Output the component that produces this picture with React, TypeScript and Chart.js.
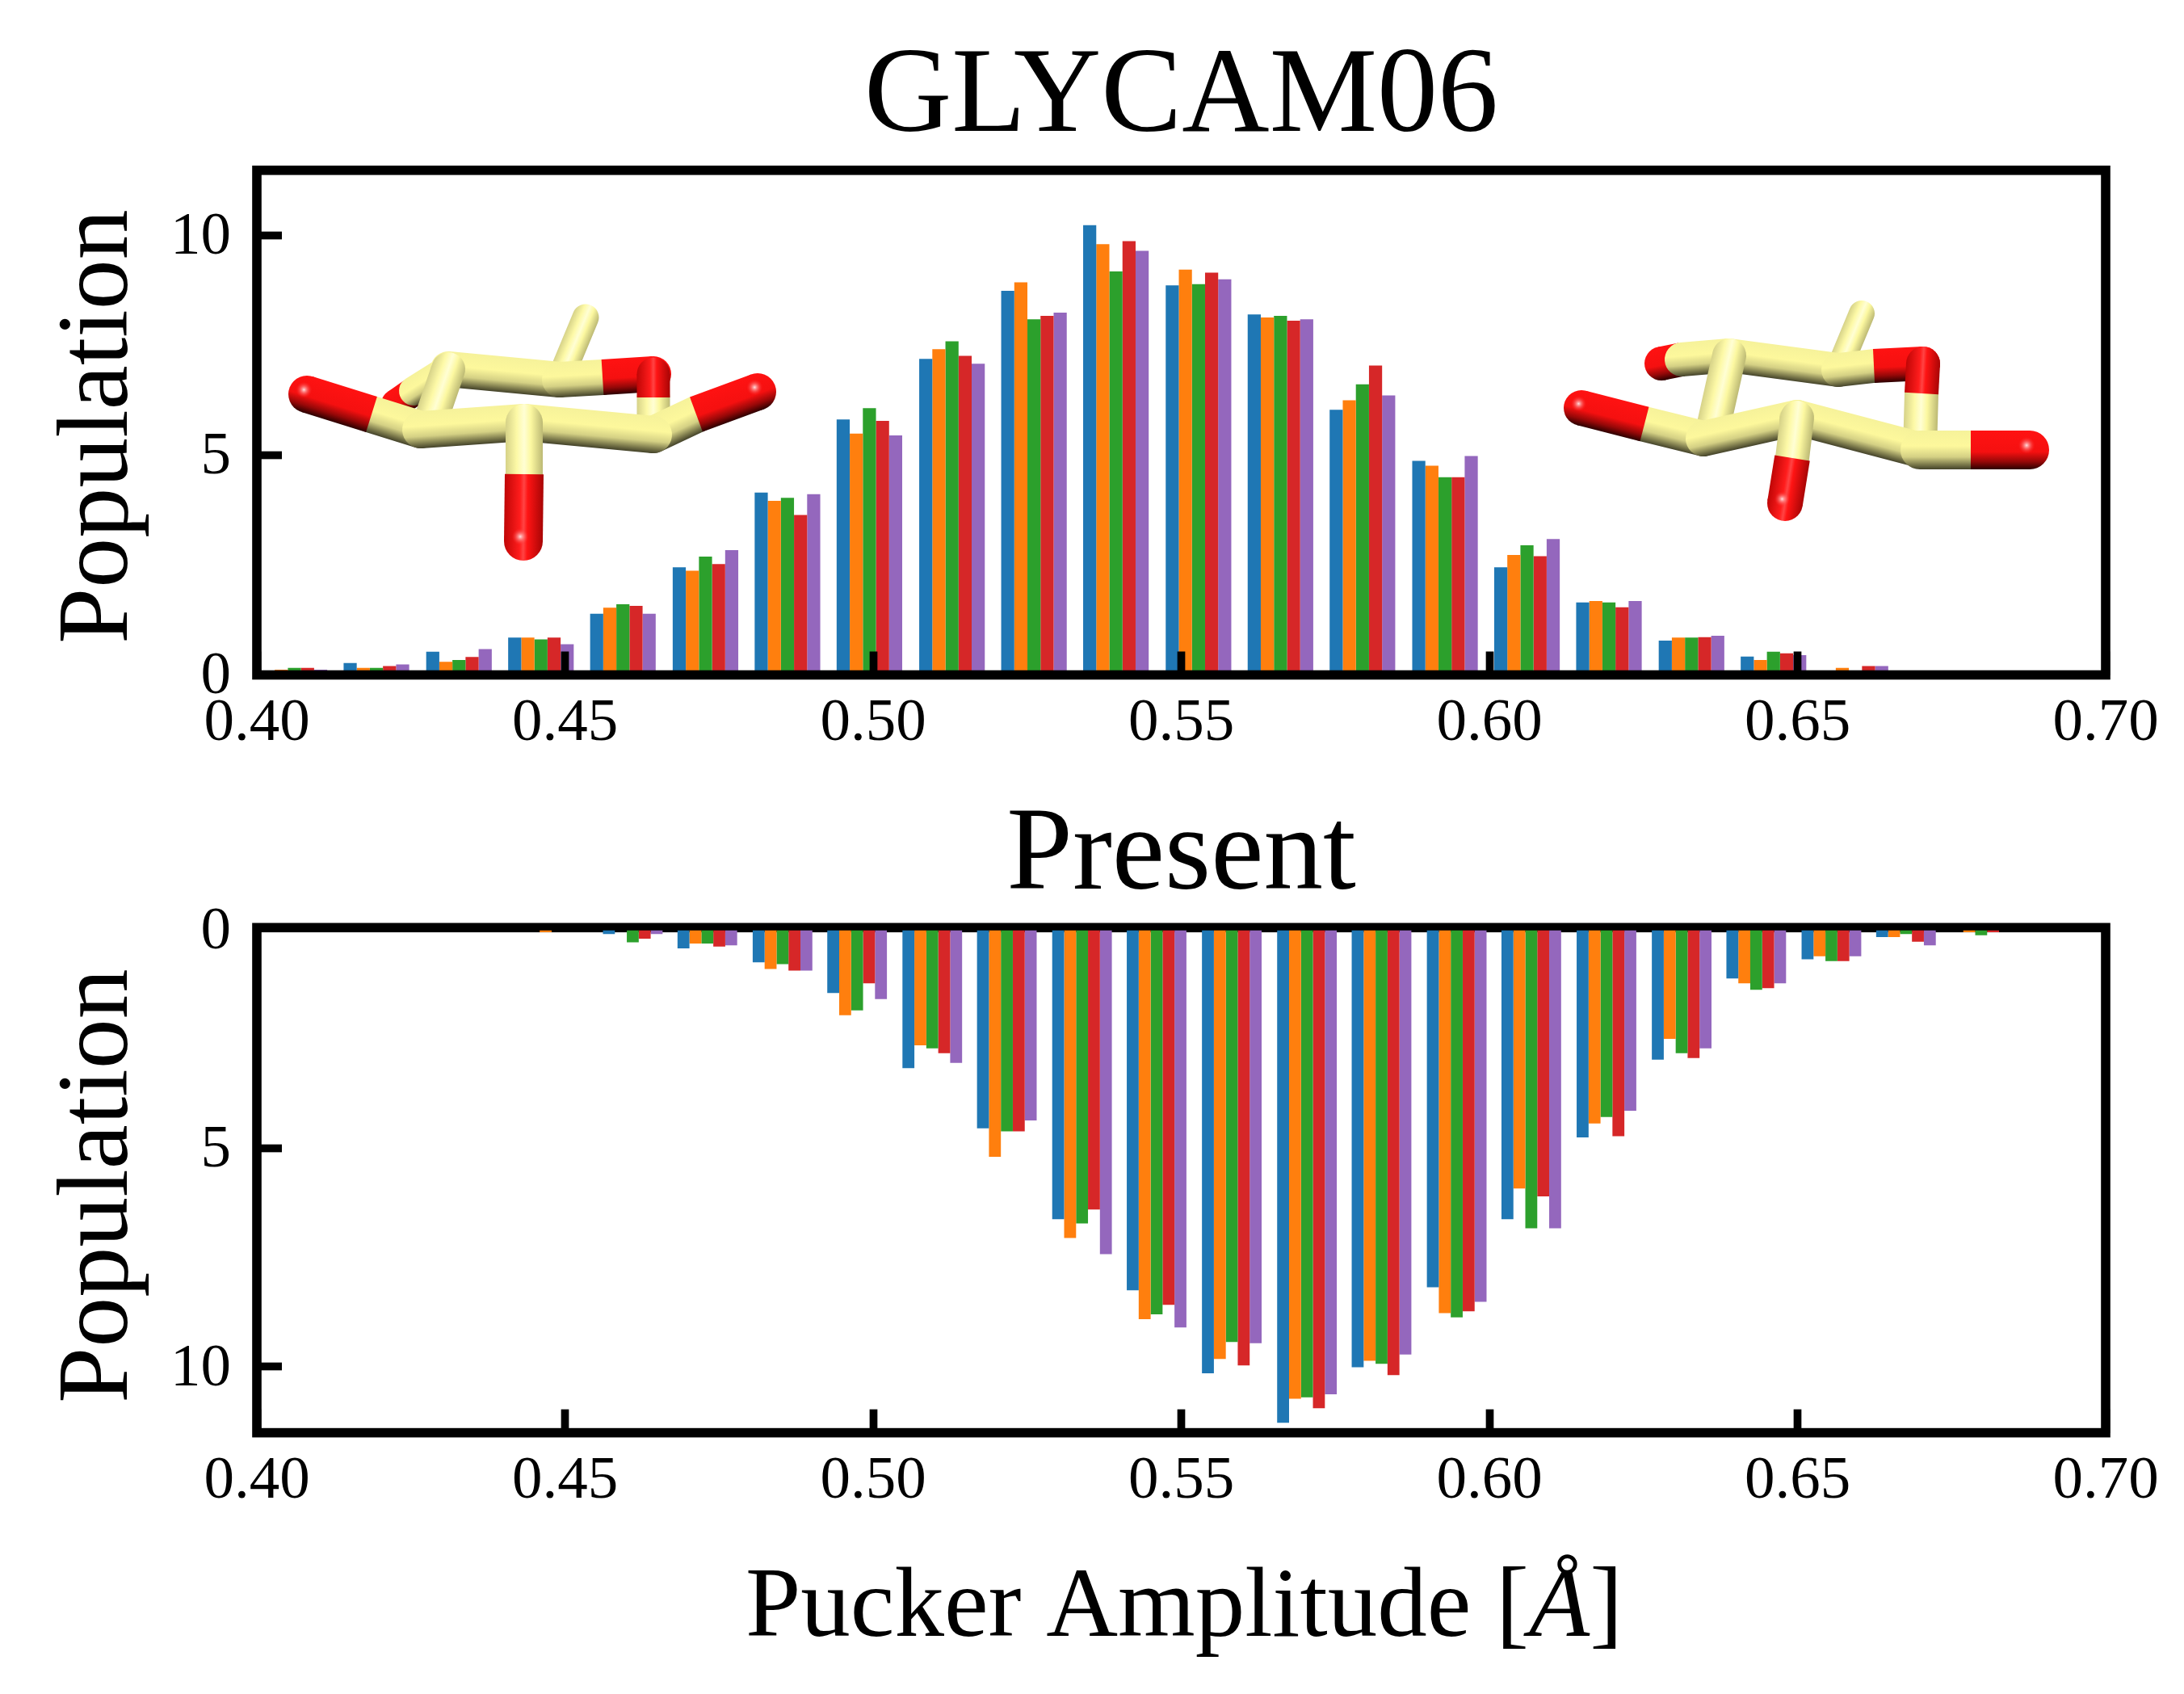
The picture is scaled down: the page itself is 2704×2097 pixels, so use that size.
import { useEffect, useRef } from "react";
import { Chart, registerables } from "chart.js";

Chart.register(...registerables);

const FONT = "'Liberation Serif'";
const COLORS = ["#1f77b4", "#ff7f0e", "#2ca02c", "#d62728", "#9467bd"];

// x ticks are shared, y ticks too
const xTicks = [0.4, 0.45, 0.5, 0.55, 0.6, 0.65, 0.7];
const yTicks = [0, 5, 10];

// GLYCAM06 panel
const topBins = [0.4061, 0.4194, 0.4328, 0.4461, 0.4594, 0.4728, 0.4861, 0.4994, 0.5128, 0.5261, 0.5394, 0.5528, 0.5661, 0.5794, 0.5928, 0.6061, 0.6194, 0.6328, 0.6461, 0.6594];
const topRun1 = [0.05, 0.27, 0.53, 0.85, 1.39, 2.45, 4.15, 5.81, 7.19, 8.74, 10.23, 8.86, 8.2, 6.03, 4.87, 2.45, 1.65, 0.78, 0.42, 0.05];
const topRun2 = [0.12, 0.16, 0.3, 0.85, 1.53, 2.37, 3.96, 5.49, 7.41, 8.93, 9.8, 9.22, 8.13, 6.25, 4.76, 2.73, 1.68, 0.85, 0.34, 0.16];
const topRun3 = [0.16, 0.16, 0.34, 0.81, 1.61, 2.69, 4.03, 6.07, 7.59, 8.09, 9.18, 8.89, 8.17, 6.61, 4.5, 2.95, 1.65, 0.85, 0.53, 0.05];
const topRun4 = [0.16, 0.2, 0.41, 0.85, 1.57, 2.52, 3.64, 5.78, 7.26, 8.17, 9.87, 9.15, 8.06, 7.04, 4.5, 2.7, 1.54, 0.86, 0.49, 0.2];
const topRun5 = [0.12, 0.24, 0.59, 0.7, 1.39, 2.84, 4.11, 5.45, 7.08, 8.24, 9.65, 9.0, 8.09, 6.36, 4.98, 3.09, 1.68, 0.89, 0.45, 0.2];

// Present panel
const lowBins = [0.4488, 0.461, 0.4731, 0.4853, 0.4974, 0.5096, 0.5217, 0.5339, 0.546, 0.5582, 0.5704, 0.5825, 0.5947, 0.6068, 0.619, 0.6312, 0.6433, 0.6555, 0.6676, 0.6798];
const lowRun1 = [0, 0.09, 0.42, 0.74, 1.44, 3.16, 4.54, 6.62, 8.25, 10.15, 11.28, 10.01, 8.18, 6.62, 4.75, 2.97, 1.11, 0.67, 0.16, 0];
const lowRun2 = [0.05, 0, 0.31, 0.89, 1.95, 2.64, 5.19, 7.05, 8.91, 9.82, 10.73, 9.86, 8.77, 5.92, 4.43, 2.49, 1.22, 0.6, 0.16, 0.05];
const lowRun3 = [0, 0.28, 0.31, 0.78, 1.84, 2.71, 4.61, 6.72, 8.8, 9.43, 10.7, 9.93, 8.87, 6.83, 4.28, 2.82, 1.37, 0.71, 0.09, 0.12];
const lowRun4 = [0, 0.2, 0.38, 0.93, 1.22, 2.82, 4.61, 6.4, 8.58, 9.97, 10.95, 10.19, 8.73, 6.1, 4.72, 2.93, 1.33, 0.71, 0.27, 0.05];
const lowRun5 = [0, 0.09, 0.35, 0.93, 1.58, 3.04, 4.36, 7.42, 9.1, 9.46, 10.63, 9.72, 8.51, 6.83, 4.14, 2.71, 1.22, 0.6, 0.35, 0];

type Pt = [number, number];

const RAMPS: Record<string, [number, string][]> = {
  yellowh: [[0, "#f6f29a"], [0.4, "#fdf89c"], [0.68, "#d4d084"], [0.9, "#706e44"], [1, "#44432a"]],
  yellowv: [[0, "#d6d288"], [0.3, "#fdf9a6"], [0.5, "#fffed4"], [0.68, "#fcf8a0"], [1, "#bcb974"]],
  redh: [[0, "#ff1212"], [0.55, "#f51010"], [0.8, "#960808"], [1, "#2c0000"]],
  redv: [[0, "#c00606"], [0.4, "#ff1c1c"], [0.5, "#ff4444"], [0.6, "#ff1414"], [1, "#a80505"]],
};

function ramp(ctx: CanvasRenderingContext2D, a: Pt, b: Pt, w: number, name: string) {
  const dx = b[0] - a[0];
  const dy = b[1] - a[1];
  const len = Math.hypot(dx, dy) || 1;
  let nx = -dy / len;
  let ny = dx / len;
  if (ny < 0 || (ny === 0 && nx < 0)) {
    nx = -nx;
    ny = -ny;
  }
  if (name.endsWith("v") && nx < 0) {
    nx = -nx;
    ny = -ny;
  }
  const g = ctx.createLinearGradient(a[0] - (nx * w) / 2, a[1] - (ny * w) / 2, a[0] + (nx * w) / 2, a[1] + (ny * w) / 2);
  RAMPS[name].forEach(([p, c]) => g.addColorStop(p, c));
  return g;
}

function bond(ctx: CanvasRenderingContext2D, a: Pt, b: Pt, w: number, style: "h" | "v") {
  ctx.strokeStyle = ramp(ctx, a, b, w, "yellow" + style);
  ctx.lineWidth = w;
  ctx.lineCap = "round";
  ctx.beginPath();
  ctx.moveTo(a[0], a[1]);
  ctx.lineTo(b[0], b[1]);
  ctx.stroke();
}

// red end of a bond: flat where it meets the yellow part, round at the tip
function oxygen(ctx: CanvasRenderingContext2D, from: Pt, tip: Pt, w: number, style: "h" | "v", shine = true) {
  ctx.strokeStyle = ramp(ctx, from, tip, w, "red" + style);
  ctx.lineWidth = w;
  ctx.lineCap = "butt";
  ctx.beginPath();
  ctx.moveTo(from[0], from[1]);
  ctx.lineTo(tip[0], tip[1]);
  ctx.stroke();
  ctx.lineCap = "round";
  ctx.beginPath();
  ctx.moveTo(tip[0], tip[1]);
  ctx.lineTo(tip[0] + 0.01, tip[1]);
  ctx.stroke();
  if (shine) {
    const hx = tip[0] - w * 0.08;
    const hy = tip[1] - w * 0.12;
    const g = ctx.createRadialGradient(hx, hy, 0, hx, hy, w * 0.22);
    g.addColorStop(0, "rgba(255,235,235,0.95)");
    g.addColorStop(1, "rgba(255,40,40,0)");
    ctx.fillStyle = g;
    ctx.beginPath();
    ctx.arc(hx, hy, w * 0.22, 0, Math.PI * 2);
    ctx.fill();
  }
}

function leftMolecule(ctx: CanvasRenderingContext2D) {
  bond(ctx, [693, 470], [725, 393], 33, "v");
  oxygen(ctx, [510, 486], [490, 500], 36, "h", false);
  bond(ctx, [555, 457], [512, 484], 36, "h");
  bond(ctx, [555, 457], [693, 470], 44, "h");
  bond(ctx, [693, 470], [746, 467], 44, "h");
  oxygen(ctx, [746, 467], [809, 463], 44, "h", false);
  bond(ctx, [809, 538], [809, 492], 41, "v");
  oxygen(ctx, [809, 492], [809, 463], 41, "v", false);
  bond(ctx, [530, 530], [555, 457], 42, "v");
  bond(ctx, [521, 532], [460, 513], 46, "h");
  oxygen(ctx, [460, 513], [380, 488], 46, "h");
  bond(ctx, [809, 538], [862, 513], 46, "h");
  oxygen(ctx, [862, 513], [938, 485], 46, "h");
  bond(ctx, [521, 532], [649, 523], 46, "h");
  bond(ctx, [649, 523], [809, 538], 46, "h");
  bond(ctx, [649, 523], [649, 587], 46, "v");
  oxygen(ctx, [649, 587], [648, 670], 48, "v");
}

function rightMolecule(ctx: CanvasRenderingContext2D) {
  bond(ctx, [2276, 458], [2305, 388], 32, "v");
  oxygen(ctx, [2082, 445], [2057, 450], 42, "h", false);
  bond(ctx, [2141, 440], [2082, 445], 42, "h");
  bond(ctx, [2141, 440], [2276, 458], 42, "h");
  bond(ctx, [2276, 458], [2320, 453], 42, "h");
  oxygen(ctx, [2320, 453], [2381, 450], 42, "h", false);
  bond(ctx, [2377, 557], [2379, 487], 42, "v");
  oxygen(ctx, [2379, 487], [2381, 450], 42, "v", false);
  bond(ctx, [2122, 525], [2141, 440], 42, "v");
  bond(ctx, [2109, 543], [2036, 525], 44, "h");
  oxygen(ctx, [2036, 525], [1958, 505], 44, "h");
  bond(ctx, [2109, 543], [2225, 517], 44, "h");
  bond(ctx, [2225, 517], [2377, 557], 44, "h");
  bond(ctx, [2377, 557], [2440, 557], 48, "h");
  oxygen(ctx, [2440, 557], [2513, 557], 48, "h");
  bond(ctx, [2225, 517], [2219, 567], 42, "v");
  oxygen(ctx, [2219, 567], [2210, 623], 44, "v");
}

function drawFrame(chart: Chart) {
  const { ctx, chartArea: a } = chart;
  ctx.save();
  ctx.strokeStyle = "#000";
  ctx.lineWidth = 11.6;
  ctx.lineJoin = "miter";
  ctx.strokeRect(a.left, a.top, a.right - a.left, a.bottom - a.top);
  ctx.restore();
}

const frameOnTop = { id: "frameOnTop", afterDatasetsDraw: drawFrame };
const frameBelow = { id: "frameBelow", beforeDatasetsDraw: drawFrame };

const molecules = {
  id: "molecules",
  afterDatasetsDraw(chart: Chart) {
    const ctx = chart.ctx;
    ctx.save();
    leftMolecule(ctx);
    rightMolecule(ctx);
    ctx.restore();
  },
};

// mixed upright and italic, so not the scale's own title
const xLabel = {
  id: "xLabel",
  afterDraw(chart: Chart) {
    const ctx = chart.ctx;
    const parts: [string, string][] = [
      ["Pucker Amplitude [", `123px ${FONT}`],
      ["Å", `italic 123px ${FONT}`],
      ["]", `123px ${FONT}`],
    ];
    ctx.save();
    ctx.fillStyle = "#000";
    ctx.textBaseline = "alphabetic";
    ctx.textAlign = "left";
    let total = 0;
    parts.forEach(([t, f]) => {
      ctx.font = f;
      total += ctx.measureText(t).width;
    });
    let x = 1466 - total / 2;
    parts.forEach(([t, f]) => {
      ctx.font = f;
      ctx.fillText(t, x, 1075);
      x += ctx.measureText(t).width;
    });
    ctx.restore();
  },
};

// the reference's label sits a little below the middle of the axis
const yLabel = (centerY: number) => ({
  id: "yLabel",
  afterDraw(chart: Chart) {
    const ctx = chart.ctx;
    ctx.save();
    ctx.translate(157, centerY);
    ctx.rotate(-Math.PI / 2);
    ctx.fillStyle = "#000";
    ctx.font = `124px ${FONT}`;
    ctx.textAlign = "center";
    ctx.textBaseline = "alphabetic";
    ctx.fillText("Population", 0, 0);
    ctx.restore();
  },
});

type PanelProps = {
  title: string;
  titleSize: number;
  bins: number[];
  runs: number[][];
  top: number;
  height: number;
  xAxisHeight: number;
  titleTop: number;
  titleBottom: number;
  yMin: number;
  yMax: number;
  reverse: boolean;
  plugins: any[];
};

const Panel = (p: PanelProps) => {
  const ref = useRef<HTMLCanvasElement | null>(null);

  useEffect(() => {
    const ctx = ref.current ? ref.current.getContext("2d") : null;
    if (!ctx) return;
    const chart = new Chart(ctx, {
      type: "bar",
      data: {
        datasets: p.runs.map((vals, i) => ({
          label: `run ${i + 1}`,
          data: p.bins.map((x, j) => ({ x, y: vals[j] })),
          backgroundColor: COLORS[i],
          borderWidth: 0,
          categoryPercentage: 0.8,
          barPercentage: 1,
        })),
      },
      plugins: p.plugins,
      options: {
        responsive: false,
        devicePixelRatio: 1,
        animation: false,
        layout: { autoPadding: false, padding: { left: 0, top: 0, right: 97, bottom: 0 } },
        plugins: {
          legend: { display: false },
          tooltip: { enabled: false },
          title: {
            display: true,
            text: p.title,
            fullSize: false,
            color: "#000",
            font: { family: FONT, size: p.titleSize, weight: "normal", lineHeight: 1 },
            padding: { top: p.titleTop, bottom: p.titleBottom },
          },
        },
        scales: {
          x: {
            type: "linear",
            min: 0.4,
            max: 0.7,
            offset: false,
            border: { display: false },
            grid: { offset: false, drawOnChartArea: false, tickLength: -29, tickWidth: 9.7, tickColor: "#000", z: 1 },
            afterFit: (s: any) => {
              s.height = p.xAxisHeight;
              // the tick padding would otherwise eat into the plot width
              s.paddingLeft = 0;
              s.paddingRight = 0;
            },
            afterBuildTicks: (s: any) => {
              s.ticks = xTicks.map((value) => ({ value }));
            },
            ticks: {
              color: "#000",
              font: { family: FONT, size: 75 },
              padding: 45,
              autoSkip: false,
              maxRotation: 0,
              callback: (v: any) => Number(v).toFixed(2),
            },
          },
          y: {
            min: p.yMin,
            max: p.yMax,
            reverse: p.reverse,
            border: { display: false },
            grid: {
              drawOnChartArea: false,
              tickLength: -31,
              tickWidth: 9.7,
              tickColor: (c: any) => (c.tick && c.tick.value === 0 ? "transparent" : "#000"),
              z: 1,
            },
            afterFit: (s: any) => {
              s.width = 318;
            },
            afterBuildTicks: (s: any) => {
              s.ticks = yTicks.map((value) => ({ value }));
            },
            ticks: {
              color: "#000",
              font: { family: FONT, size: 75 },
              padding: 63,
              labelOffset: 3,
              callback: (v: any) => String(v),
            },
          },
        },
      },
    });

    return () => {
      chart.destroy();
    };
  }, []);

  return (
    <canvas
      ref={ref}
      width={2704}
      height={p.height}
      style={{ position: "absolute", left: 0, top: p.top, width: 2704, height: p.height }}
    />
  );
};

const App = () => (
  <div style={{ position: "absolute", left: 0, top: 0, width: 2704, height: 2097, overflow: "hidden", background: "#fff" }}>
    <Panel
      title="GLYCAM06"
      titleSize={150}
      bins={topBins}
      runs={[topRun1, topRun2, topRun3, topRun4, topRun5]}
      top={0}
      height={950}
      xAxisHeight={114.5}
      titleTop={47.5}
      titleBottom={13.3}
      yMin={0}
      yMax={11.48}
      reverse={false}
      plugins={[frameOnTop, molecules, yLabel(528)]}
    />
    <Panel
      title="Present"
      titleSize={147}
      bins={lowBins}
      runs={[lowRun1, lowRun2, lowRun3, lowRun4, lowRun5]}
      top={950}
      height={1147}
      xAxisHeight={323.4}
      titleTop={37.5}
      titleBottom={13.8}
      yMin={-0.055}
      yMax={11.51}
      reverse={true}
      plugins={[frameBelow, xLabel, yLabel(518)]}
    />
  </div>
);

export default App;
